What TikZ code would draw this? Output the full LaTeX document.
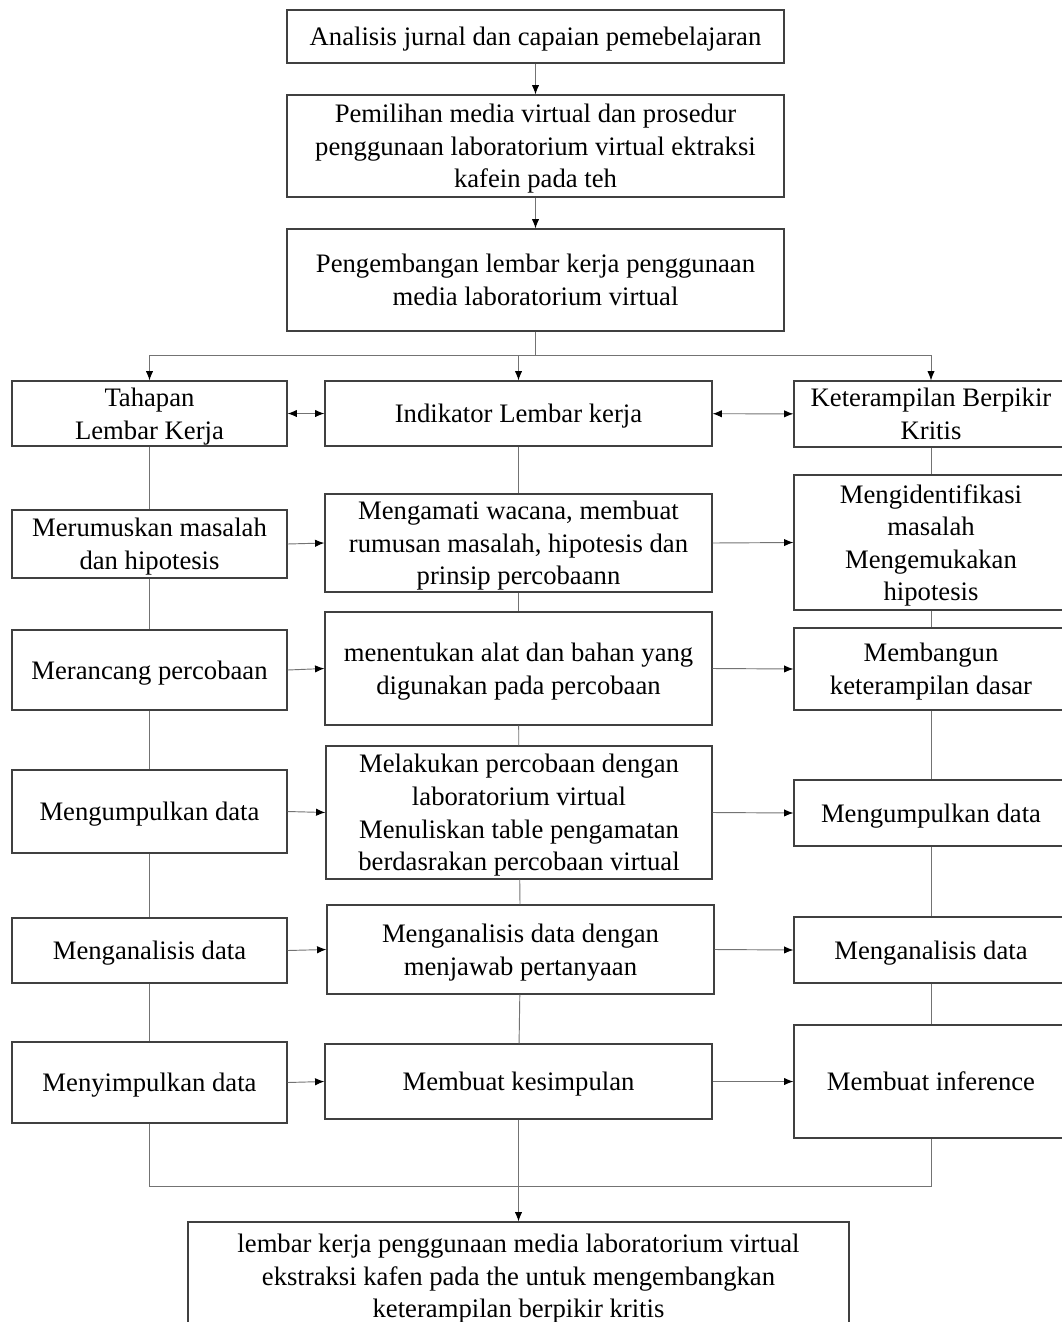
\documentclass[tikz,border=0pt]{standalone}
\usepackage{fontspec}
\setmainfont{Liberation Serif}
\usetikzlibrary{arrows.meta}
\begin{document}
\begin{tikzpicture}[x=0.75pt,y=-0.75pt,
    box/.style 2 args={draw=black!75,line width=0.9pt,align=center,inner sep=0pt,
        minimum width=#1*0.75pt,minimum height=#2*0.75pt,text depth=-1.5pt,
        font=\fontsize{20}{24.4}\selectfont},
    link/.style={draw=black!55,line width=0.7pt},
    arr/.style={link,-{Latex[length=7pt,width=5.5pt,color=black]}},
    darr/.style={link,{Latex[length=7pt,width=5.5pt,color=black]}-{Latex[length=7pt,width=5.5pt,color=black]}}]
    \useasboundingbox (0,0) rectangle (1062,1322);
    \clip (0,0) rectangle (1062,1322);
    % alur utama
    \node[box={497}{53}] (analisis) at (535.5,36.5) {Analisis jurnal dan capaian pemebelajaran};
    \node[box={497}{102}] (pemilihan) at (535.5,146) {Pemilihan media virtual dan prosedur\\penggunaan laboratorium virtual ektraksi\\kafein pada teh};
    \node[box={497}{102}] (pengembangan) at (535.5,280) {Pengembangan lembar kerja penggunaan\\media laboratorium virtual};
    % kolom kiri
    \node[box={275}{65}] (l0) at (149.5,413.5) {Tahapan\\Lembar Kerja};
    \node[box={275}{68}] (l1) at (149.5,544) {Merumuskan masalah\\dan hipotesis};
    \node[box={275}{80}] (l2) at (149.5,670) {Merancang percobaan};
    \node[box={275}{83}] (l3) at (149.5,811.5) {Mengumpulkan data};
    \node[box={275}{65}] (l4) at (149.5,950.5) {Menganalisis data};
    \node[box={275}{81}] (l5) at (149.5,1082.5) {Menyimpulkan data};
    % kolom tengah
    \node[box={387}{65}] (m0) at (518.5,413.5) {Indikator Lembar kerja};
    \node[box={387}{98}] (m1) at (518.5,543) {Mengamati wacana, membuat\\rumusan masalah, hipotesis dan\\prinsip percobaann};
    \node[box={387}{113}] (m2) at (518.5,668.5) {menentukan alat dan bahan yang\\digunakan pada percobaan};
    \node[box={386}{133}] (m3) at (519,812.5) {Melakukan percobaan dengan\\laboratorium virtual\\Menuliskan table pengamatan\\berdasrakan percobaan virtual};
    \node[box={387}{89}] (m4) at (520.5,949.5) {Menganalisis data dengan\\menjawab pertanyaan};
    \node[box={387}{75}] (m5) at (518.5,1081.5) {Membuat kesimpulan};
    % kolom kanan
    \node[box={274}{66}] (r0) at (931,414) {Keterampilan Berpikir\\Kritis};
    \node[box={274}{135}] (r1) at (931,542.5) {Mengidentifikasi\\masalah\\Mengemukakan\\hipotesis};
    \node[box={274}{82}] (r2) at (931,669) {Membangun\\keterampilan dasar};
    \node[box={274}{66}] (r3) at (931,813) {Mengumpulkan data};
    \node[box={274}{66}] (r4) at (931,950) {Menganalisis data};
    \node[box={274}{113}] (r5) at (931,1081.5) {Membuat inference};
    % hasil akhir
    \node[box={661}{108}] (hasil) at (518.5,1276) {lembar kerja penggunaan media laboratorium virtual\\ekstraksi kafen pada the untuk mengembangkan\\keterampilan berpikir kritis};
    % panah
    \draw[arr] (analisis) -- (pemilihan);
    \draw[arr] (pemilihan) -- (pengembangan);
    \coordinate (split) at (535.5,355);
    \draw[link] (pengembangan.south) -- (split);
    \draw[arr] (split) -| (l0.north);
    \draw[arr] (split) -| (m0.north);
    \draw[arr] (split) -| (r0.north);
    \draw[darr] (l0) -- (m0);
    \draw[darr] (m0) -- (r0);
    \foreach \i [evaluate=\i as \j using int(\i+1)] in {0,...,4} {
        \draw[link] (l\i) -- (l\j);
        \draw[link] (m\i) -- (m\j);
        \draw[link] (r\i) -- (r\j);
    }
    \foreach \i in {1,...,5} {
        \draw[arr] (l\i.east) -- (m\i.west);
        \draw[arr] (m\i.east) -- (r\i.west);
    }
    \coordinate (join) at (518.5,1186);
    \draw[link] (l5.south) -- (l5.south |- join) -- (r5.south |- join) -- (r5.south);
    \draw[arr] (m5.south) -- (hasil.north);
\end{tikzpicture}
\end{document}
